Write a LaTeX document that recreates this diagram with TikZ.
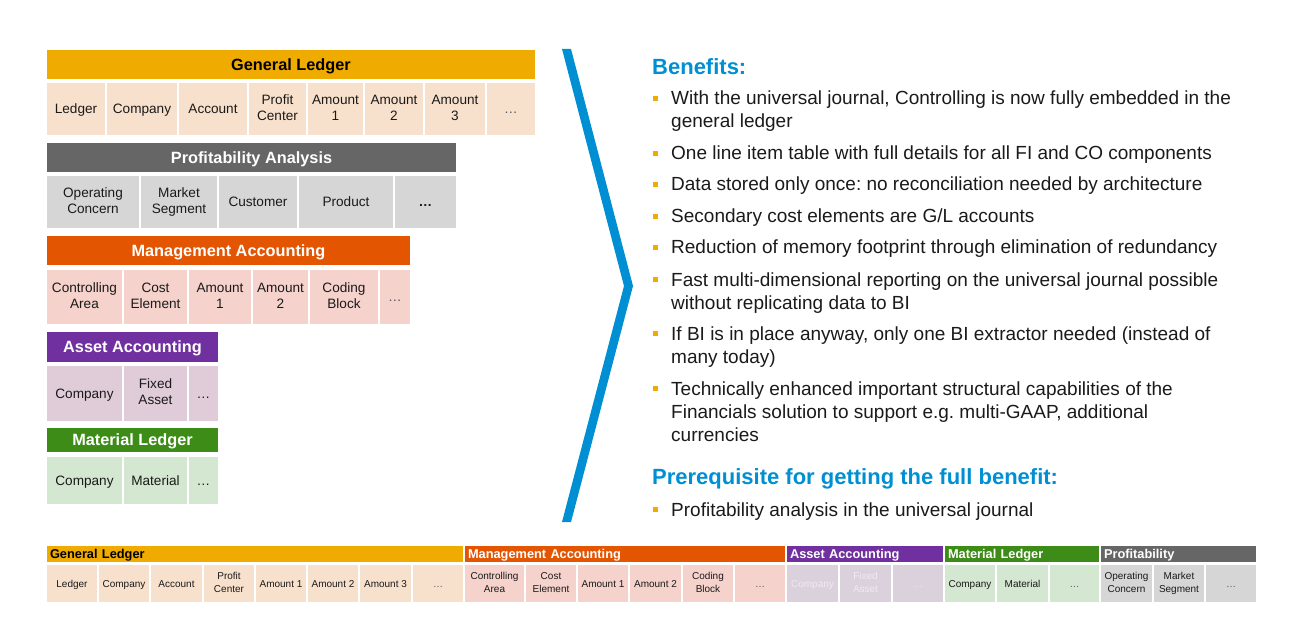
\documentclass[tikz,border=0pt]{standalone}
\usepackage{fontspec}
\setmainfont{Liberation Sans}

% palette
\definecolor{glgold}{HTML}{F0AB00}
\definecolor{glcell}{HTML}{F8E1CC}
\definecolor{pagrey}{HTML}{666666}
\definecolor{pacell}{HTML}{D6D6D6}
\definecolor{maorange}{HTML}{E35500}
\definecolor{macell}{HTML}{F5D2CB}
\definecolor{aapurple}{HTML}{7030A0}
\definecolor{aacell}{HTML}{E0CBD8}
\definecolor{aafaded}{HTML}{DAD1DD}
\definecolor{aafadedtext}{HTML}{EFEAF1}
\definecolor{mlgreen}{HTML}{3D8C17}
\definecolor{mlcell}{HTML}{D4E7D0}
\definecolor{sapblue}{HTML}{008FD3}
\definecolor{bodytext}{HTML}{1A1A1A}
\definecolor{dotsgrey}{HTML}{555555}

% fonts
\newcommand\hdfont{\fontsize{16.3}{19}\selectfont\bfseries}
\newcommand\tcellfont{\fontsize{13.6}{16}\selectfont}
\newcommand\barhdfont{\fontsize{12.8}{15}\selectfont\bfseries}
\newcommand\barcellfont{\fontsize{10}{13}\selectfont}
\newcommand\bodyfont{\fontsize{19}{23}\selectfont}
\newcommand\ttlfont{\fontsize{22}{26}\selectfont\bfseries}

% struts that keep the capitals optically centred in a box
\newcommand\topstrut{\vrule height 0.95em depth 0pt width 0pt}
\newcommand\botstrut{\vrule height 0pt depth 0.23em width 0pt}

% a filled box spanning x1..x2, y1..y2 (pixel units, y downwards)
\newcommand\tcell[7]{%
  \node[#1, anchor=north west, minimum width={#5pt-#3pt},
        minimum height={#6pt-#4pt}] (#2) at (#3,#4) {#7};}

\tikzset{
  box/.style={inner sep=1pt, outer sep=0pt, align=center,
              execute at begin node=\topstrut, execute at end node=\botstrut},
  tophead/.style={box, font=\hdfont, text=white},
  topcell/.style={box, font=\tcellfont, text=bodytext},
  barhead/.style={inner xsep=3pt, inner ysep=0pt, outer sep=0pt, align=left,
                  font=\barhdfont, text=white, minimum height=16pt,
                  anchor=north west,
                  execute at begin node=\topstrut, execute at end node=\botstrut},
  barcell/.style={box, font=\barcellfont, text=bodytext},
  item/.style={anchor=base west, align=left, inner sep=0pt, font=\bodyfont, text=bodytext},
  ttl/.style={anchor=base west, inner sep=0pt, font=\ttlfont, text=sapblue},
  sq/.style={fill=glgold, minimum size=5.5pt, inner sep=0pt, outer sep=0pt},
}

\begin{document}
\frenchspacing
\begin{tikzpicture}[x=1pt, y=-1pt]
\useasboundingbox (0,0) rectangle (1301,620);

% ---------- General Ledger ----------
\tcell{tophead, fill=glgold, text=black}{gl}{47}{50}{535}{79}{General Ledger}
\tcell{topcell, fill=glcell}{gl1}{47}{83}{105}{135}{Ledger}
\tcell{topcell, fill=glcell}{gl2}{107}{83}{177}{135}{Company}
\tcell{topcell, fill=glcell}{gl3}{179}{83}{247}{135}{Account}
\tcell{topcell, fill=glcell}{gl4}{249}{83}{306}{135}{Profit\\Center}
\tcell{topcell, fill=glcell}{gl5}{308}{83}{363}{135}{Amount\\1}
\tcell{topcell, fill=glcell}{gl6}{365}{83}{423}{135}{Amount\\2}
\tcell{topcell, fill=glcell}{gl7}{425}{83}{485}{135}{Amount\\3}
\tcell{topcell, fill=glcell, text=dotsgrey}{gl8}{487}{83}{535}{135}{\ldots}

% ---------- Profitability Analysis ----------
\tcell{tophead, fill=pagrey}{pa}{47}{143}{456}{172}{Profitability Analysis}
\tcell{topcell, fill=pacell}{pa1}{47}{176}{139}{228}{Operating\\Concern}
\tcell{topcell, fill=pacell}{pa2}{141}{176}{217}{228}{Market\\Segment}
\tcell{topcell, fill=pacell}{pa3}{219}{176}{297}{228}{Customer}
\tcell{topcell, fill=pacell}{pa4}{299}{176}{393}{228}{Product}
\tcell{topcell, fill=pacell}{pa5}{395}{176}{456}{228}{\textbf{\ldots}}

% ---------- Management Accounting ----------
\tcell{tophead, fill=maorange}{ma}{47}{236}{410}{265}{Management Accounting}
\tcell{topcell, fill=macell}{ma1}{47}{270}{122}{324}{Controlling\\Area}
\tcell{topcell, fill=macell}{ma2}{124}{270}{187}{324}{Cost\\Element}
\tcell{topcell, fill=macell}{ma3}{189}{270}{251}{324}{Amount\\1}
\tcell{topcell, fill=macell}{ma4}{253}{270}{308}{324}{Amount\\2}
\tcell{topcell, fill=macell}{ma5}{310}{270}{378}{324}{Coding\\Block}
\tcell{topcell, fill=macell, text=dotsgrey}{ma6}{380}{270}{410}{324}{\ldots}

% ---------- Asset Accounting ----------
\tcell{tophead, fill=aapurple}{aa}{47}{332}{218}{362}{Asset Accounting}
\tcell{topcell, fill=aacell}{aa1}{47}{366}{122}{421}{Company}
\tcell{topcell, fill=aacell}{aa2}{124}{366}{187}{421}{Fixed\\Asset}
\tcell{topcell, fill=aacell}{aa3}{189}{366}{218}{421}{\ldots}

% ---------- Material Ledger ----------
\tcell{tophead, fill=mlgreen}{ml}{47}{428}{218}{452}{Material Ledger}
\tcell{topcell, fill=mlcell}{ml1}{47}{457}{122}{504}{Company}
\tcell{topcell, fill=mlcell}{ml2}{124}{457}{187}{504}{Material}
\tcell{topcell, fill=mlcell}{ml3}{189}{457}{218}{504}{\ldots}

% ---------- chevron ----------
\fill[sapblue] (562,49) -- (571,49) -- (633,286) -- (571,522)
  -- (562,522) -- (624,286) -- cycle;

% ---------- benefits (multi-line items are placed by their last baseline) ----------
\node[ttl] (benefits) at (652,75) {Benefits:};
\node[sq] (s1) at (655.5,98.5) {};
\node[item] (b1) at (671,128) {With the universal journal, Controlling is now fully embedded in the\\general ledger};
\node[sq] (s2) at (655.5,153.5) {};
\node[item] (b2) at (671,160) {One line item table with full details for all FI and CO components};
\node[sq] (s3) at (655.5,184.5) {};
\node[item] (b3) at (671,191) {Data stored only once: no reconciliation needed by architecture};
\node[sq] (s4) at (655.5,216.5) {};
\node[item] (b4) at (671,223) {Secondary cost elements are G/L accounts};
\node[sq] (s5) at (655.5,247.5) {};
\node[item] (b5) at (671,254) {Reduction of memory footprint through elimination of redundancy};
\node[sq] (s6) at (655.5,279.5) {};
\node[item] (b6) at (671,309) {Fast multi-dimensional reporting on the universal journal possible\\without replicating data to BI};
\node[sq] (s7) at (655.5,333.5) {};
\node[item] (b7) at (671,363) {If BI is in place anyway, only one BI extractor needed (instead of\\many today)};
\node[sq] (s8) at (655.5,388.5) {};
\node[item] (b8) at (671,441) {Technically enhanced important structural capabilities of the\\Financials solution to support e.g. multi-GAAP, additional\\currencies};
\node[ttl] (prereq) at (652,484) {Prerequisite for getting the full benefit:};
\node[sq] (s9) at (655.5,509.5) {};
\node[item] (b9) at (671,516) {Profitability analysis in the universal journal};

% ---------- combined line item bar ----------
\node[barhead, fill=glgold, text=black, text width=410pt] (bgl) at (47,546) {General Ledger};
\tcell{barcell, fill=glcell}{bgl1}{47}{565}{97}{602}{Ledger}
\tcell{barcell, fill=glcell}{bgl2}{99}{565}{149}{602}{Company}
\tcell{barcell, fill=glcell}{bgl3}{151}{565}{202}{602}{Account}
\tcell{barcell, fill=glcell}{bgl4}{204}{565}{254}{602}{Profit\\Center}
\tcell{barcell, fill=glcell}{bgl5}{256}{565}{306}{602}{Amount 1}
\tcell{barcell, fill=glcell}{bgl6}{308}{565}{358}{602}{Amount 2}
\tcell{barcell, fill=glcell}{bgl7}{360}{565}{411}{602}{Amount\ 3}
\tcell{barcell, fill=glcell, text=dotsgrey}{bgl8}{413}{565}{463}{602}{\ldots}

\node[barhead, fill=maorange, text width=314pt] (bma) at (465,546) {Management Accounting};
\tcell{barcell, fill=macell}{bma1}{465}{565}{524}{602}{Controlling\\Area}
\tcell{barcell, fill=macell}{bma2}{526}{565}{576}{602}{Cost\\Element}
\tcell{barcell, fill=macell}{bma3}{578}{565}{628}{602}{Amount 1}
\tcell{barcell, fill=macell}{bma4}{630}{565}{681}{602}{Amount 2}
\tcell{barcell, fill=macell}{bma5}{683}{565}{733}{602}{Coding\\Block}
\tcell{barcell, fill=macell, text=dotsgrey}{bma6}{735}{565}{785}{602}{\ldots}

\node[barhead, fill=aapurple, text width=150pt] (baa) at (787,546) {Asset Accounting};
\tcell{barcell, fill=aafaded, text=aafadedtext}{baa1}{787}{565}{838}{602}{Company}
\tcell{barcell, fill=aafaded, text=aafadedtext}{baa2}{840}{565}{891}{602}{Fixed\\Asset}
\tcell{barcell, fill=aafaded, text=aafadedtext}{baa3}{893}{565}{943}{602}{\ldots}

\node[barhead, fill=mlgreen, text width=148pt] (bml) at (945,546) {Material Ledger};
\tcell{barcell, fill=mlcell}{bml1}{945}{565}{995}{602}{Company}
\tcell{barcell, fill=mlcell}{bml2}{997}{565}{1048}{602}{Material}
\tcell{barcell, fill=mlcell, text=dotsgrey}{bml3}{1050}{565}{1099}{602}{\ldots}

\node[barhead, fill=pagrey, text width=149pt] (bpa) at (1101,546) {Profitability};
\tcell{barcell, fill=pacell}{bpa1}{1101}{565}{1152}{602}{Operating\\Concern}
\tcell{barcell, fill=pacell}{bpa2}{1154}{565}{1204}{602}{Market\\Segment}
\tcell{barcell, fill=pacell, text=dotsgrey}{bpa3}{1206}{565}{1256}{602}{\ldots}
\end{tikzpicture}
\end{document}
